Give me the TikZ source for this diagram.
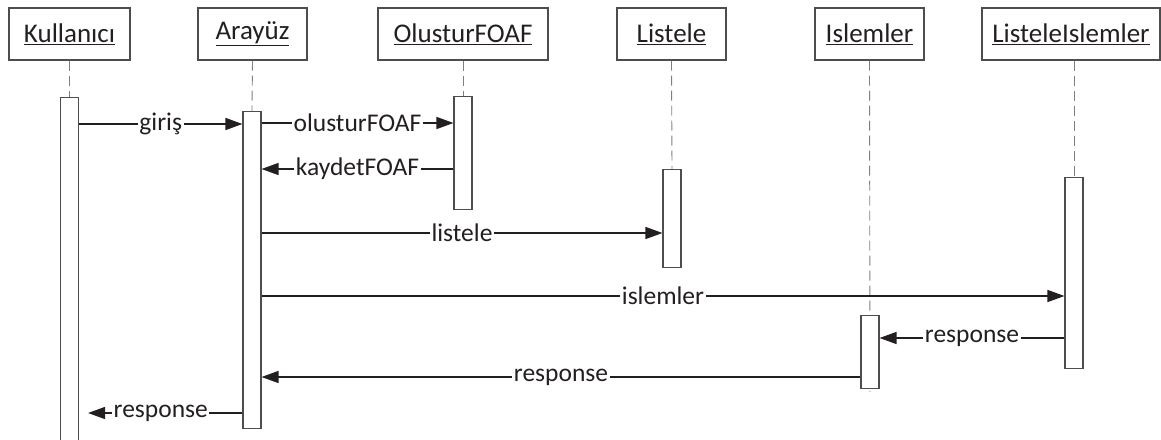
\documentclass[tikz,border=0pt]{standalone}
\usepackage{fontspec}
\setmainfont{Carlito}
\usetikzlibrary{arrows.meta}
\definecolor{ink}{HTML}{231F20}
\definecolor{frame}{HTML}{4D4D4D}
\begin{document}
\begin{tikzpicture}[x=1pt,y=-1pt,
  obj/.style={draw=frame,line width=1.1pt,minimum height=52pt,inner sep=0pt,text=ink,font=\fontsize{27}{32}\selectfont},
  act/.style={draw=frame,fill=white,line width=1.1pt,minimum width=18pt,anchor=north,inner sep=0pt},
  life/.style={draw=gray,line width=0.9pt,dash pattern=on 10pt off 5pt},
  msg/.style={draw=ink,line width=1.4pt,-{Triangle[length=17pt,width=12pt]}},
  lbl/.style={fill=white,inner sep=1.5pt,text=ink,font=\fontsize{25.5}{30}\selectfont}]
\useasboundingbox (0,0) rectangle (1161,439);

\node[obj,minimum width=121pt] (kul) at (69.5,34) {\underline{Kullanıcı}};
\node[obj,minimum width=109pt] (ara) at (252.5,34) {\underline{Arayüz}};
\node[obj,minimum width=170pt] (olu) at (463,34) {\underline{OlusturFOAF}};
\node[obj,minimum width=109pt] (lis) at (671.5,34) {\underline{Listele}};
\node[obj,minimum width=109pt] (isl) at (869.5,34) {\underline{Islemler}};
\node[obj,minimum width=178pt] (lisisl) at (1071,34) {\underline{ListeleIslemler}};

\coordinate (kulEnd) at (69.5,97);
\coordinate (araEnd) at (252,111);
\coordinate (oluEnd) at (463,96);
\coordinate (lisEnd) at (672,169);
\coordinate (islEnd) at (870,392);
\coordinate (lisislEnd) at (1074,177);

\draw[life] (kul.south) -- (kulEnd);
\draw[life] (ara.south) -- (araEnd);
\draw[life] (olu.south) -- (oluEnd);
\draw[life] (lis.south) -- (lisEnd);
\draw[life] (isl.south) -- (islEnd);
\draw[life] (lisisl.south -| lisislEnd) -- (lisislEnd);

\node[act,minimum height=350pt] (kulA) at (kulEnd) {};
\node[act,minimum height=317pt] (araA) at (araEnd) {};
\node[act,minimum height=113pt] (oluA) at (oluEnd) {};
\node[act,minimum height=98pt] (lisA) at (lisEnd) {};
\node[act,minimum height=73pt] (islA) at (870,315) {};
\node[act,minimum height=191pt] (lisislA) at (lisislEnd) {};

\draw[msg] (kulA.east |- 0,124) -- node[lbl] {giriş} (araA.west |- 0,124);
\draw[msg] (araA.east |- 0,123) -- node[lbl] {olusturFOAF} (oluA.west |- 0,123);
\draw[msg] (oluA.west |- 0,169) -- node[lbl] {kaydetFOAF} (araA.east |- 0,169);
\draw[msg] (araA.east |- 0,233) -- node[lbl] {listele} (lisA.west |- 0,233);
\draw[msg] (araA.east |- 0,296) -- node[lbl] {islemler} (lisislA.west |- 0,296);
\draw[msg] (lisislA.west |- 0,338) -- node[lbl] {response} (islA.east |- 0,338);
\draw[msg] (islA.west |- 0,377) -- node[lbl] {response} (araA.east |- 0,377);
\draw[msg,shorten >=9pt] (araA.west |- 0,413) -- node[lbl] {response} (kulA.east |- 0,413);
\end{tikzpicture}
\end{document}
